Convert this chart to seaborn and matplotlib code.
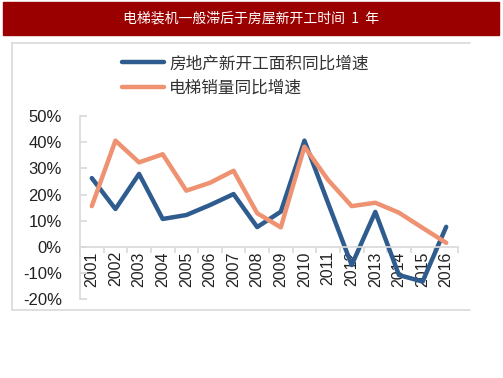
import numpy as np
import pandas as pd
import seaborn as sns
import matplotlib.pyplot as plt
from matplotlib.patches import Rectangle
from matplotlib.lines import Line2D

years = ['2001', '2002', '2003', '2004', '2005', '2006', '2007', '2008',
         '2009', '2010', '2011', '2012', '2013', '2014', '2015', '2016']
house = [26.3, 14.5, 27.9, 10.7, 12.2, 16.0, 20.2, 7.6,
         13.5, 40.6, 16.8, -6.9, 13.4, -10.7, -13.2, 7.7]
elevator = [15.6, 40.6, 32.3, 35.4, 21.5, 24.5, 29.1, 12.9,
            7.5, 38.3, 25.6, 15.6, 16.9, 13.1, 7.3, 1.6]
names = ['房地产新开工面积同比增速', '电梯销量同比增速']
title = '电梯装机一般滞后于房屋新开工时间  1  年'

df = pd.DataFrame({
    'pos': list(range(len(years))) * 2,
    'value': house + elevator,
    'series': [names[0]] * len(years) + [names[1]] * len(years),
})

sns.set_style('white')
plt.rcParams['font.family'] = ['Liberation Sans', 'Noto Sans CJK SC', 'DejaVu Sans']

W, H = 503, 378
fig = plt.figure(figsize=(W / 100, H / 100), dpi=100)

# red banner with title
fig.patches.append(Rectangle((3 / W, 1 - 35 / H), 496 / W, 33 / H,
                             transform=fig.transFigure, color='#9B0000', zorder=0))
fig.text(251 / W, 1 - 19 / H, title, color='white', fontsize=10,
         ha='center', va='center', family=['Noto Sans CJK SC', 'DejaVu Sans'])

# light grey frame (left, top, bottom)
fc = '#D9D9D9'
for xs, ys in [((11.5, 470), (42.5, 42.5)), ((11.5, 11.5), (42.5, 310)),
               ((11.5, 470), (310, 310))]:
    fig.add_artist(Line2D([x / W for x in xs], [1 - y / H for y in ys],
                          transform=fig.transFigure, color=fc, lw=1.2))

ax = fig.add_axes([80 / W, 1 - 299.4 / H, 378 / W, 183.4 / H])
sns.lineplot(data=df, x='pos', y='value', hue='series', ax=ax,
             palette=['#2F5C8F', '#EE9272'], linewidth=3.2, legend=False)
ax.set_axisbelow(True)

ax.set_xlim(-0.5, len(years) - 0.5)
ax.set_ylim(-20, 50)
ax.set_yticks(range(-20, 51, 10))
ax.set_yticklabels([f'{v}%' for v in range(-20, 51, 10)])
ax.set_xticks(range(len(years)))
ax.set_xticklabels(years)
ax.set_xticks(np.arange(-0.5, len(years), 1), minor=True)
ax.set_xlabel('')
ax.set_ylabel('')

for s in ['top', 'right']:
    ax.spines[s].set_visible(False)
ax.spines['bottom'].set_position(('data', 0))
ax.spines['bottom'].set_color(fc)
ax.spines['left'].set_color(fc)
ax.spines['bottom'].set_linewidth(1.2)
ax.spines['left'].set_linewidth(1.2)

ax.tick_params(axis='y', direction='in', length=5, color=fc, width=1.2,
               labelsize=12, pad=13, labelcolor='#222222', left=True)
ax.tick_params(axis='x', which='major', length=0, labelsize=11.5, pad=3,
               labelcolor='#222222', labelrotation=90)
ax.tick_params(axis='x', which='minor', direction='out', length=4, color=fc,
               width=1.2, bottom=True)

handles = [Line2D([], [], color='#2F5C8F', lw=3.2),
           Line2D([], [], color='#EE9272', lw=3.2)]
fig.legend(handles, names, loc='upper left',
           bbox_to_anchor=(114 / W, 1 - 47 / H), frameon=False,
           prop={'family': ['Noto Sans CJK SC', 'DejaVu Sans'], 'size': 12},
           handlelength=2.5, handletextpad=0.3, labelspacing=0.45,
           borderpad=0, labelcolor='#333333')

fig.savefig('out.png', dpi=100)
